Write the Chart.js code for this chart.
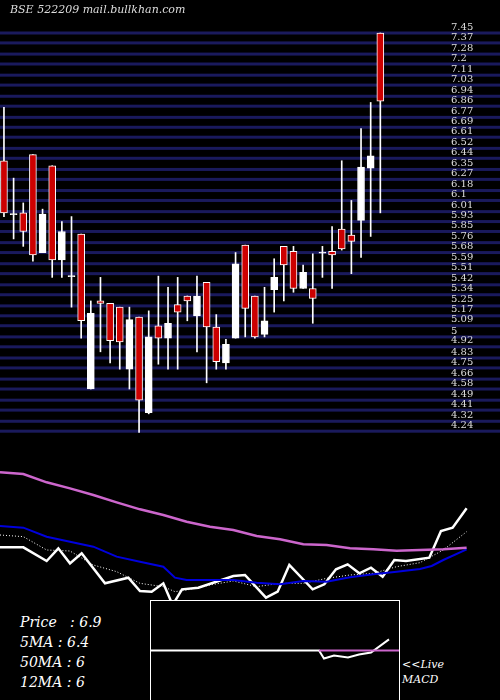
<!DOCTYPE html>
<html><head><meta charset="utf-8">
<script src="https://cdn.jsdelivr.net/npm/chart.js@4"></script>
<style>
body{margin:0;background:#000;width:500px;height:700px;position:relative;overflow:hidden}
canvas{position:absolute}
.t{position:absolute;color:#fff;font-family:"DejaVu Serif","Liberation Serif",serif;font-style:italic}
</style></head><body>
<div style="position:absolute;left:0;top:0;width:500px;height:440px"><canvas id="c1"></canvas></div>
<div style="position:absolute;left:0;top:450px;width:500px;height:150px"><canvas id="c2"></canvas></div>
<div style="position:absolute;left:150px;top:600px;width:250px;height:100px;box-sizing:border-box;border:1px solid #fff;border-bottom:none;background:#000"><canvas id="c3"></canvas></div>
<div class="t" style="left:20px;top:614px;font-size:14px">Price&nbsp;&nbsp; : 6.9</div>
<div class="t" style="left:20px;top:634px;font-size:14px">5MA : 6.4</div>
<div class="t" style="left:20px;top:654px;font-size:14px">50MA : 6</div>
<div class="t" style="left:20px;top:674px;font-size:14px">12MA : 6</div>
<div class="t" style="left:402px;top:658px;font-size:11px">&lt;&lt;Live</div>
<div class="t" style="left:402px;top:673px;font-size:11px">MACD</div>
<script>
const opens  = [6.42,5.99,6.00,6.47,5.68,6.38,5.62,5.49,5.83,4.58,5.29,5.27,5.24,4.74,5.16,4.39,5.09,4.99,5.26,5.33,5.17,5.44,5.08,4.79,4.99,5.74,5.33,5.02,5.38,5.73,5.69,5.39,5.39,5.68,5.69,5.87,5.82,5.94,6.36,7.45];
const highs  = [6.85,6.28,6.08,6.47,6.03,6.38,5.93,5.97,5.83,5.29,5.48,5.27,5.24,5.24,5.16,5.21,5.49,5.40,5.48,5.33,5.49,5.44,5.18,4.98,5.68,5.74,5.33,5.40,5.63,5.73,5.73,5.58,5.67,5.73,5.89,6.42,6.10,6.68,6.89,7.45];
const lows   = [5.97,5.79,5.73,5.61,5.68,5.48,5.48,5.24,4.99,4.58,4.88,4.79,4.74,4.58,4.23,4.38,4.78,4.74,4.74,5.13,4.88,4.63,4.74,4.74,4.99,5.00,4.99,5.00,5.20,5.29,5.36,5.39,5.11,5.48,5.39,5.70,5.51,5.64,5.81,6.00];
const closes = [6.00,5.99,5.85,5.66,5.99,5.62,5.85,5.49,5.13,5.19,5.27,4.97,4.96,5.14,4.49,5.00,4.99,5.11,5.20,5.29,5.33,5.08,4.80,4.94,5.59,5.23,5.00,5.13,5.48,5.58,5.39,5.52,5.31,5.68,5.66,5.71,5.77,6.37,6.46,6.90];
const tickLabels = ["7.45","7.37","7.28","7.2","7.11","7.03","6.94","6.86","6.77","6.69","6.61","6.52","6.44","6.35","6.27","6.18","6.1","6.01","5.93","5.85","5.76","5.68","5.59","5.51","5.42","5.34","5.25","5.17","5.09","5","4.92","4.83","4.75","4.66","4.58","4.49","4.41","4.32","4.24"];

// lower panel: position index and indicator values
const priceX = [0,1,2,2.5,3,3.5,4.5,5.5,6,6.5,7,7.4,7.8,8.5,10,10.5,11.4,11.9,12.4,13.4,13.9,14.4,14.9,15.4,15.9,16.4,16.9,17.4,18.4,18.9,19.4,20];
const priceV = [3.08,3.08,2.67,3.05,2.60,2.90,2.00,2.17,1.77,1.75,2.00,1.35,1.82,1.87,2.22,2.25,1.57,1.75,2.55,1.82,1.97,2.42,2.57,2.30,2.47,2.20,2.70,2.67,2.77,3.57,3.67,4.25];
const ma12X = [0,1,2,3,4,5,6,7,7.5,8,9,10,11,12,13,14,15,16,17,18,19,20];
const ma12V = [3.45,3.40,3.00,2.97,2.55,2.35,2.00,1.90,1.75,1.80,1.95,2.07,1.90,2.00,2.00,2.15,2.25,2.30,2.50,2.62,3.00,3.55];
const ma5X = [0,1,2,3,4,5,6,7,7.5,8,9,10,11,12,13,14,15,16,17,18,18.5,19,20];
const ma5V = [3.72,3.67,3.40,3.25,3.10,2.80,2.65,2.50,2.17,2.10,2.10,2.10,2.02,1.97,2.07,2.05,2.18,2.27,2.35,2.43,2.52,2.70,3.02];
const ma50X = [0,1,2,3,4,5,6,7,8,9,10,11,12,13,14,15,16,17,18,19,20];
const ma50V = [5.33,5.28,5.03,4.85,4.65,4.43,4.22,4.05,3.85,3.70,3.60,3.42,3.32,3.17,3.15,3.05,3.02,2.98,3.00,3.02,3.07];
const macdX = [0,168,173,183,197,208,220,238];
const macdV = [0,0,-8,-5,-7,-4,-2,11];
const signalX = [168,250];
const signalV = [0,0];

const idx = closes.map((_,i)=>i);
const up = closes.map((c,i)=>c>=opens[i]);
const gridPlugin = {
  id:'grid',
  beforeDatasetsDraw(ch){
    const ctx=ch.ctx, y=ch.scales.y;
    ctx.save();
    tickLabels.forEach(l=>{
      const py=y.getPixelForValue(parseFloat(l));
      ctx.fillStyle='#1a1a5c';ctx.fillRect(0,py-1.5,500,3);
      ctx.fillStyle='#ddd';ctx.font='10px "DejaVu Serif", serif';ctx.textBaseline='bottom';
      ctx.fillText(l,451,py-1);
    });
    ctx.fillStyle='#ddd';ctx.font='italic 11px "DejaVu Serif", serif';ctx.textBaseline='top';
    ctx.fillText('BSE 522209 mail.bullkhan.com',10,5);
    ctx.restore();
  }
};
new Chart(document.getElementById('c1'),{
  type:'bar',
  data:{datasets:[
    {data:idx.map(i=>({x:i,y:[lows[i],highs[i]]})),backgroundColor:'#fff',barThickness:1,grouped:false,order:2},
    {data:idx.map(i=>({x:i,y:opens[i]===closes[i]?[opens[i]-0.004,opens[i]+0.004]:[opens[i],closes[i]]})),
     backgroundColor:idx.map(i=>opens[i]===closes[i]?'#fff':(up[i]?'#fff':'#cc0000')),
     borderColor:'#fff',borderWidth:1,borderSkipped:false,barThickness:7,grouped:false,order:1}
  ]},
  options:{responsive:true,maintainAspectRatio:false,animation:false,
    plugins:{legend:{display:false},tooltip:{enabled:false}},
    layout:{padding:0},
    scales:{x:{type:'linear',offset:false,min:-0.41,max:51.4,display:false},y:{min:4.169,max:7.716,display:false}}},
  plugins:[gridPlugin]
});
const ln=(xs,vs,c,w,dash)=>({data:xs.map((x,i)=>({x,y:vs[i]})),borderColor:c,borderWidth:w,borderDash:dash||[],pointRadius:0,tension:0,fill:false});
new Chart(document.getElementById('c2'),{
  type:'line',
  data:{datasets:[ln(ma50X,ma50V,'#cc66cc',2.5),ln(ma5X,ma5V,'#0000dd',2),ln(ma12X,ma12V,'#fff',1,[1,2]),ln(priceX,priceV,'#fff',2.5)]},
  options:{responsive:true,maintainAspectRatio:false,animation:false,layout:{padding:0},
    plugins:{legend:{display:false},tooltip:{enabled:false}},
    scales:{x:{type:'linear',min:0,max:21.43,display:false},y:{min:1.5,max:6,display:false}}}
});
new Chart(document.getElementById('c3'),{
  type:'line',
  data:{datasets:[ln(signalX,signalV,'#cc66cc',2),ln(macdX,macdV,'#fff',2)]},
  options:{responsive:true,maintainAspectRatio:false,animation:false,layout:{padding:0},
    plugins:{legend:{display:false},tooltip:{enabled:false}},
    scales:{x:{type:'linear',min:0,max:248,display:false},y:{min:-49,max:49,display:false}}}
});
</script></body></html>
